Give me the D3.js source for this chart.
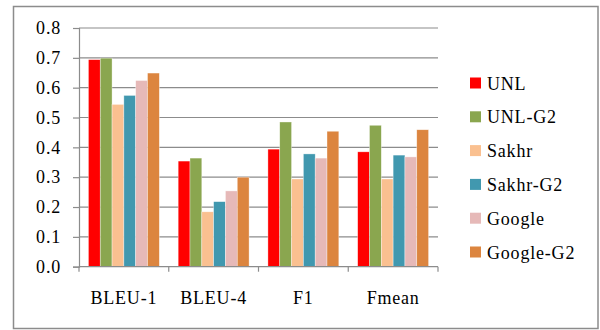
<!DOCTYPE html>
<html>
<head>
<meta charset="utf-8">
<script src="https://cdn.jsdelivr.net/npm/d3@7/dist/d3.min.js"></script>
<style>
  html, body { margin: 0; padding: 0; background: #fff; }
  svg { display: block; }
  svg text { font-family: "Liberation Serif", "Times New Roman", Times, serif !important; fill: #000; }
</style>
</head>
<body>
<svg id="chart" width="600" height="330"></svg>
<script>
// Evaluation metrics and systems
const categories = ["BLEU-1", "BLEU-4", "F1", "Fmean"];
const seriesNames = ["UNL", "UNL-G2", "Sakhr", "Sakhr-G2", "Google", "Google-G2"];
const seriesColors = ["#ff0000", "#8aa64f", "#fac090", "#4198af", "#e6b9b8", "#dc853f"];

// Scores per system, one value per metric
const UNL      = [0.694, 0.354, 0.394, 0.385];
const UNL_G2   = [0.699, 0.364, 0.485, 0.474];
const Sakhr    = [0.544, 0.184, 0.294, 0.294];
const Sakhr_G2 = [0.574, 0.218, 0.378, 0.374];
const Google   = [0.624, 0.254, 0.364, 0.368];
const Google_G2= [0.649, 0.300, 0.454, 0.459];
const seriesValues = [UNL, UNL_G2, Sakhr, Sakhr_G2, Google, Google_G2];

const yTicks = [0, 0.1, 0.2, 0.3, 0.4, 0.5, 0.6, 0.7, 0.8];

const FONT = "'Liberation Serif', 'Times New Roman', Times, serif";

const svg = d3.select("#chart");

// Chart frame
svg.append("rect")
  .attr("x", 13.5).attr("y", 6.5)
  .attr("width", 584.5).attr("height", 322)
  .attr("fill", "#fff").attr("stroke", "#8c8c8c").attr("stroke-width", 1.5);

const plot = { left: 79, right: 438, top: 28, bottom: 266.7 };

const x0 = d3.scaleBand()
  .domain(categories)
  .range([plot.left, plot.right])
  .paddingInner(0.21)
  .paddingOuter(0.105);

const x1 = d3.scaleBand()
  .domain(d3.range(seriesNames.length))
  .range([0, x0.bandwidth()]);

const y = d3.scaleLinear().domain([0, 0.8]).range([plot.bottom, plot.top]);

// Horizontal gridlines
svg.append("g")
  .selectAll("line")
  .data(yTicks.filter(t => t > 0))
  .join("line")
  .attr("x1", plot.left).attr("x2", plot.right)
  .attr("y1", d => y(d)).attr("y2", d => y(d))
  .attr("stroke", "#8c8c8c").attr("stroke-width", 1.2);

// Bars
const groups = svg.append("g")
  .selectAll("g")
  .data(categories)
  .join("g")
  .attr("transform", d => `translate(${x0(d)},0)`);

groups.selectAll("rect")
  .data((c, ci) => seriesValues.map((vals, si) => ({ si, v: vals[ci] })))
  .join("rect")
  .attr("x", d => x1(d.si))
  .attr("width", x1.bandwidth())
  .attr("y", d => y(d.v))
  .attr("height", d => y(0) - y(d.v))
  .attr("fill", d => seriesColors[d.si])
  .attr("stroke", "#ffffff")
  .attr("stroke-opacity", 0.6)
  .attr("stroke-width", 0.6);

// Y axis
const yAxis = d3.axisLeft(y)
  .tickValues(yTicks)
  .tickSize(6)
  .tickPadding(12)
  .tickFormat(d3.format(".1f"));

const gy = svg.append("g")
  .attr("transform", `translate(${plot.left},0)`)
  .call(yAxis)
  .attr("font-family", FONT);
gy.select(".domain").attr("stroke", "#8c8c8c").attr("stroke-width", 1.2);
gy.selectAll(".tick line").attr("stroke", "#8c8c8c").attr("stroke-width", 1.2);
gy.selectAll(".tick text")
  .attr("font-size", 18)
  .attr("letter-spacing", "0.8px")
  .attr("fill", "#000");

// X axis: baseline with tick marks at the category boundaries
const boundaries = d3.range(categories.length + 1)
  .map(i => plot.left + i * (plot.right - plot.left) / categories.length);

svg.append("line")
  .attr("x1", plot.left).attr("x2", plot.right)
  .attr("y1", y(0)).attr("y2", y(0))
  .attr("stroke", "#8c8c8c").attr("stroke-width", 1.2);

svg.append("g")
  .selectAll("line")
  .data(boundaries)
  .join("line")
  .attr("x1", d => d).attr("x2", d => d)
  .attr("y1", y(0)).attr("y2", y(0) + 5)
  .attr("stroke", "#8c8c8c").attr("stroke-width", 1.2);

svg.append("g")
  .attr("font-family", FONT)
  .selectAll("text")
  .data(categories)
  .join("text")
  .attr("x", d => x0(d) + x0.bandwidth() / 2)
  .attr("y", 304)
  .attr("text-anchor", "middle")
  .attr("font-size", 18)
  .attr("letter-spacing", "0.8px")
  .text(d => d);

// Legend
const legend = svg.append("g")
  .attr("font-family", FONT)
  .selectAll("g")
  .data(seriesNames)
  .join("g")
  .attr("transform", (d, i) => `translate(470,${83 + i * 33.8})`);

legend.append("rect")
  .attr("x", 0).attr("y", -5.5)
  .attr("width", 11).attr("height", 11)
  .attr("fill", (d, i) => seriesColors[i]);

legend.append("text")
  .attr("x", 17)
  .attr("y", 6.5)
  .attr("font-size", 18)
  .attr("letter-spacing", "0.8px")
  .text(d => d);
</script>
</body>
</html>
